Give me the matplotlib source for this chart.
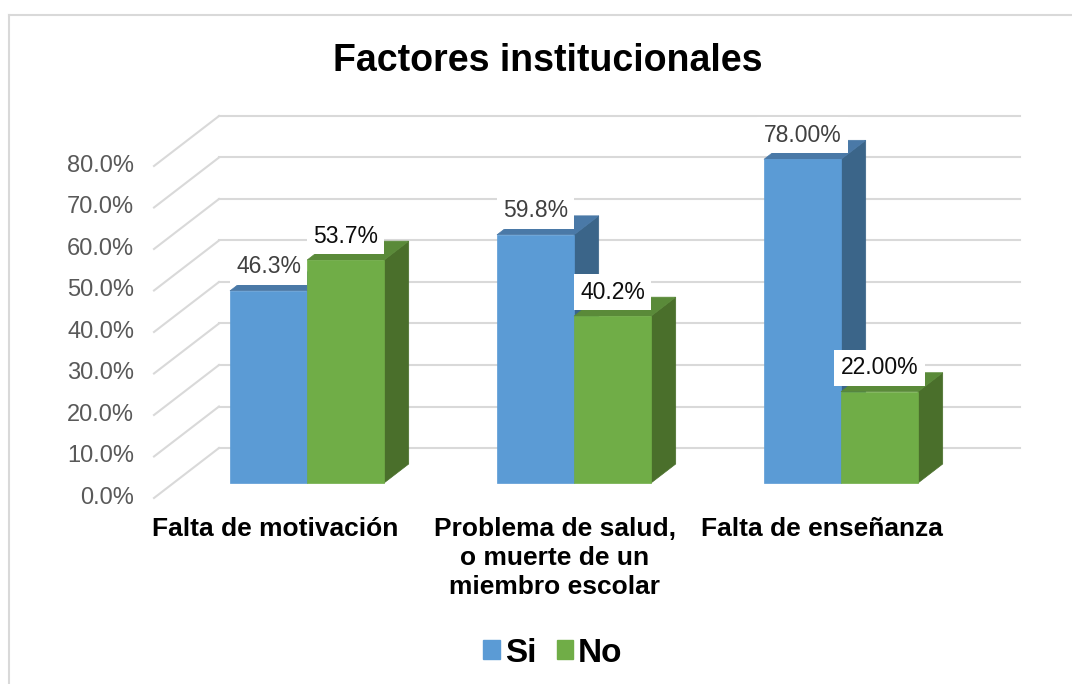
import matplotlib.pyplot as plt
from matplotlib.patches import Polygon, Patch
from matplotlib.lines import Line2D

categorias = ['Falta de motivación', 'Problema de salud,\no muerte de un\nmiembro escolar', 'Falta de enseñanza']
si = [46.3, 59.8, 78.0]
no = [53.7, 40.2, 22.0]
si_txt = ['46.3%', '59.8%', '78.00%']
no_txt = ['53.7%', '40.2%', '22.00%']
ticks = [0, 10, 20, 30, 40, 50, 60, 70, 80]

plt.rcParams['font.family'] = ['Liberation Sans', 'DejaVu Sans']

# fake 3D: oblique offset of the back wall, in data units
px_x = 267.0   # pixels per category
px_y = 4.15    # pixels per percent
DX = 65 / px_x
DY = 50 / px_y
w = 77 / px_x
d0, d1 = 0.3, 0.68

col = {
    'si': ('#5B9BD5', '#4A79A7', '#3B6589'),
    'no': ('#70AD47', '#5A8A39', '#4A6F2B'),
}

fig = plt.figure(figsize=(10.72, 6.84), dpi=100)
ax = fig.add_axes([0, 0, 1, 1])
ax.set_xlim(-287.5 / px_x, (1072 - 287.5) / px_x)
ax.set_ylim((498 - 684) / px_y, 498 / px_y)
ax.axis('off')

# gridlines: side wall slant + back wall
for t in ticks:
    ax.plot([-0.5, -0.5 + DX], [t, t + DY], color='#d9d9d9', lw=1.5, zorder=1)
    ax.plot([-0.5 + DX, 2.5 + DX], [t + DY, t + DY], color='#d9d9d9', lw=1.5, zorder=1)
    ax.text(-0.5 - 20 / px_x, t, f'{t:.1f}%', ha='right', va='center',
            fontsize=17, color='#595959')


def bar3d(x0, v, c, z):
    x1 = x0 + w
    front = [(x0 + d0 * DX, d0 * DY), (x1 + d0 * DX, d0 * DY),
             (x1 + d0 * DX, v + d0 * DY), (x0 + d0 * DX, v + d0 * DY)]
    top = [(x0 + d0 * DX, v + d0 * DY), (x1 + d0 * DX, v + d0 * DY),
           (x1 + d1 * DX, v + d1 * DY), (x0 + d1 * DX, v + d1 * DY)]
    side = [(x1 + d0 * DX, d0 * DY), (x1 + d1 * DX, d1 * DY),
            (x1 + d1 * DX, v + d1 * DY), (x1 + d0 * DX, v + d0 * DY)]
    for pts, fc in [(side, c[2]), (top, c[1]), (front, c[0])]:
        ax.add_patch(Polygon(pts, closed=True, facecolor=fc, edgecolor=fc,
                             lw=0.5, zorder=z))


for i in range(len(categorias)):
    bar3d(i - w, si[i], col['si'], 2 + 2 * i)
    bar3d(i, no[i], col['no'], 3 + 2 * i)

for i in range(len(categorias)):
    for x0, v, s, tc in [(i - w, si[i], si_txt[i], '#404040'),
                         (i, no[i], no_txt[i], '#0d0d0d')]:
        ax.text(x0 + w / 2 + d0 * DX, v + d1 * DY + 1.2, s, ha='center', va='center',
                fontsize=16.5, color=tc, zorder=20,
                bbox=dict(boxstyle='square,pad=0.28', fc='white', ec='none'))
    ax.text(i - (12 / px_x if i == 0 else 0), (498 - 517) / px_y, categorias[i],
            ha='center', va='top', fontsize=19, fontweight='bold', linespacing=1.25)

fig.text(548 / 1072, 1 - 71 / 684, 'Factores institucionales', ha='center',
         va='baseline', fontsize=27, fontweight='bold')

handles = [Patch(color=col['si'][0], label='Si'), Patch(color=col['no'][0], label='No')]
fig.legend(handles=handles, loc='center', bbox_to_anchor=(553 / 1072, 1 - 653 / 684),
           ncol=2, frameon=False, prop={'size': 24, 'weight': 'bold'},
           handlelength=0.5, handleheight=0.5, handletextpad=0.15, columnspacing=0.6)

# chart frame (only top and left edges show)
fig.add_artist(Line2D([8.5 / 1072, 1], [1 - 15 / 684] * 2, transform=fig.transFigure,
                      color='#d9d9d9', lw=1.5))
fig.add_artist(Line2D([8.5 / 1072] * 2, [0, 1 - 15 / 684], transform=fig.transFigure,
                      color='#d9d9d9', lw=1.5))

fig.savefig('out.png', dpi=100)
